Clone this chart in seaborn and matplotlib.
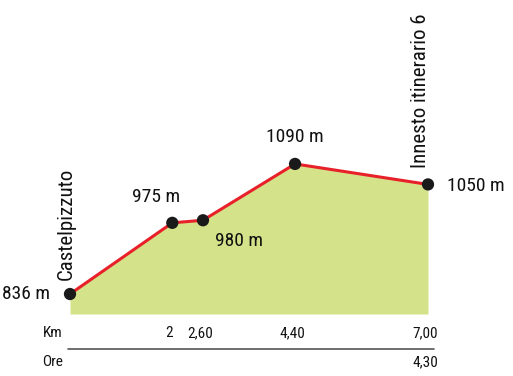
import matplotlib
matplotlib.use("Agg")
import matplotlib.pyplot as plt
import matplotlib.transforms as mtransforms
import seaborn as sns
import pandas as pd

km = [0.0, 2.0, 2.6, 4.4, 7.0]
quota = [836, 975, 980, 1090, 1050]
quota_labels = ["836 m", "975 m", "980 m", "1090 m", "1050 m"]
km_ticks = [2.0, 2.6, 4.4, 7.0]
km_tick_labels = ["2", "2,60", "4,40", "7,00"]
ore_ticks = [7.0]
ore_tick_labels = ["4,30"]
places = {0.0: "Castelpizzuto", 7.0: "Innesto itinerario 6"}

sns.set_style("white")
plt.rcParams['font.family'] = ['Roboto Condensed', 'Liberation Sans Narrow',
                               'Open Sans Condensed', 'Liberation Sans', 'DejaVu Sans']

df = pd.DataFrame({"km": km, "quota": quota})

fig = plt.figure(figsize=(5.13, 3.76), dpi=100)
W, H = 513, 376
left, right = 70 / W, 428 / W
bottom, top = (H - 314) / H, (H - 20) / H
ax = fig.add_axes([left, bottom, right - left, top - bottom])
ax.set_xlim(0, 7)
ax.set_ylim(797, 1371)
ax.axis("off")

ax.fill_between(df["km"], df["quota"], 797, color="#d4e38a", lw=0, zorder=1)
sns.lineplot(data=df, x="km", y="quota", ax=ax, color="#e8202a", lw=2.2, zorder=2,
             sort=False)
sns.scatterplot(data=df, x="km", y="quota", ax=ax, color="#1a1a1a", s=78,
                edgecolor="none", zorder=3, clip_on=False)
for l in ax.lines:
    l.set_clip_on(False)
for c in ax.collections:
    c.set_clip_on(False)

fs = 14
pfs = 15
txtc = "#111111"
# elevation labels
offs = [(-20, 0, "right", "center"), (-16, 26, "center", "center"),
        (12, -21, "left", "center"), (0, 27, "center", "center"),
        (19, -2, "left", "center")]
for x, y, lab, (dx, dy, ha, va) in zip(km, quota, quota_labels, offs):
    ax.annotate(lab, (x, y), xytext=(dx, dy), textcoords="offset pixels",
                ha=ha, va=va, fontsize=fs, color=txtc)

# place names (rotated)
ax.annotate(places[0.0], (0.0, 836), xytext=(-4, 14), textcoords="offset pixels",
            rotation=90, ha="center", va="bottom", fontsize=pfs, color=txtc)
ax.annotate(places[7.0], (7.0, 1050), xytext=(-8, 16), textcoords="offset pixels",
            rotation=90, ha="center", va="bottom", fontsize=pfs, color=txtc)

# bottom rows
trans = mtransforms.blended_transform_factory(ax.transData, fig.transFigure)
tfs = 11
y_km = 1 - 333 / H
y_ore = 1 - 362 / H
fig.text(63 / W, y_km, "Km", ha="right", va="center", fontsize=tfs, color=txtc)
fig.text(63 / W, y_ore, "Ore", ha="right", va="center", fontsize=tfs, color=txtc)
for x, lab in zip(km_ticks, km_tick_labels):
    ax.text(x - 0.06, y_km, lab, transform=trans, ha="center", va="center",
            fontsize=tfs, color=txtc)
for x, lab in zip(ore_ticks, ore_tick_labels):
    ax.text(x - 0.06, y_ore, lab, transform=trans, ha="center", va="center",
            fontsize=tfs, color=txtc)
fig.add_artist(plt.Line2D([68 / W, 434 / W], [1 - 349 / H, 1 - 349 / H],
                          color="#555555", lw=1.2, transform=fig.transFigure))

fig.savefig("out.png", dpi=100)
